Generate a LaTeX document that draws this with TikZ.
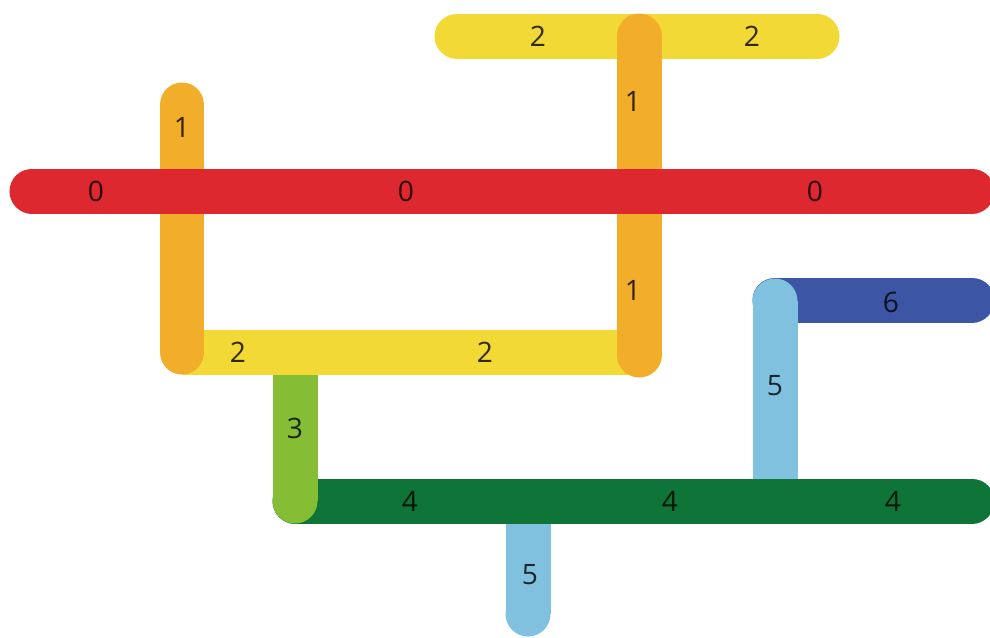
\documentclass[tikz,border=0pt]{standalone}
\usepackage{fontspec}
\setmainfont{Open Sans}
\usepackage{tikz}

\definecolor{barred}{RGB}{220,40,46}
\definecolor{barorange}{RGB}{242,174,43}
\definecolor{baryellow}{RGB}{242,217,53}
\definecolor{barlgreen}{RGB}{133,189,52}
\definecolor{bardgreen}{RGB}{14,116,55}
\definecolor{barlblue}{RGB}{128,193,224}
\definecolor{bardblue}{RGB}{61,85,165}

\begin{document}
\begin{tikzpicture}[x=0.02cm, y=-0.02cm,
  bar/.style={line width=0.9cm, line cap=round},
  flat/.style={line width=0.9cm, line cap=butt},
  lbl/.style={text=black, text opacity=0.8, font=\fontsize{16}{18}\selectfont, inner sep=0pt}]

  \useasboundingbox (0,0) rectangle (990,637);
  \clip (0,0) rectangle (990,637);

  % ranks, back to front
  \draw[bar, baryellow] (457,36) -- (817,36);
  \draw[bar, bardblue]  (775,300) -- (972,300);
  \draw[flat, barlblue] (528,501) -- (528,614);
  \fill[barlblue] (528,614) circle[radius=0.45cm];
  \draw[flat, barlblue] (775,301) -- (775,501);
  \fill[barlblue] (775,301) circle[radius=0.45cm];
  \draw[bar, bardgreen] (295,501) -- (972,501);
  \draw[flat, barlgreen] (295,352) -- (295,501);
  \fill[barlgreen] (295,501) circle[radius=0.45cm];
  \draw[flat, baryellow] (182,352) -- (639,352);
  \draw[bar, barorange] (182,105) -- (182,352);
  \draw[bar, barorange] (639,36) -- (639,355);
  \draw[bar, barred]    (32,191) -- (972,191);

  % labels
  \node[lbl] (r0a) at (96,191)  {0};
  \node[lbl] (r0b) at (406,191) {0};
  \node[lbl] (r0c) at (815,191) {0};
  \node[lbl] (r1a) at (182,127) {1};
  \node[lbl] (r1b) at (633,101) {1};
  \node[lbl] (r1c) at (633,290) {1};
  \node[lbl] (r2a) at (538,36)  {2};
  \node[lbl] (r2b) at (752,36)  {2};
  \node[lbl] (r2c) at (238,352) {2};
  \node[lbl] (r2d) at (485,352) {2};
  \node[lbl] (r3)  at (295,428) {3};
  \node[lbl] (r4a) at (410,501) {4};
  \node[lbl] (r4b) at (670,501) {4};
  \node[lbl] (r4c) at (893,501) {4};
  \node[lbl] (r5a) at (530,575) {5};
  \node[lbl] (r5b) at (775,386) {5};
  \node[lbl] (r6)  at (891,302) {6};
\end{tikzpicture}
\end{document}
